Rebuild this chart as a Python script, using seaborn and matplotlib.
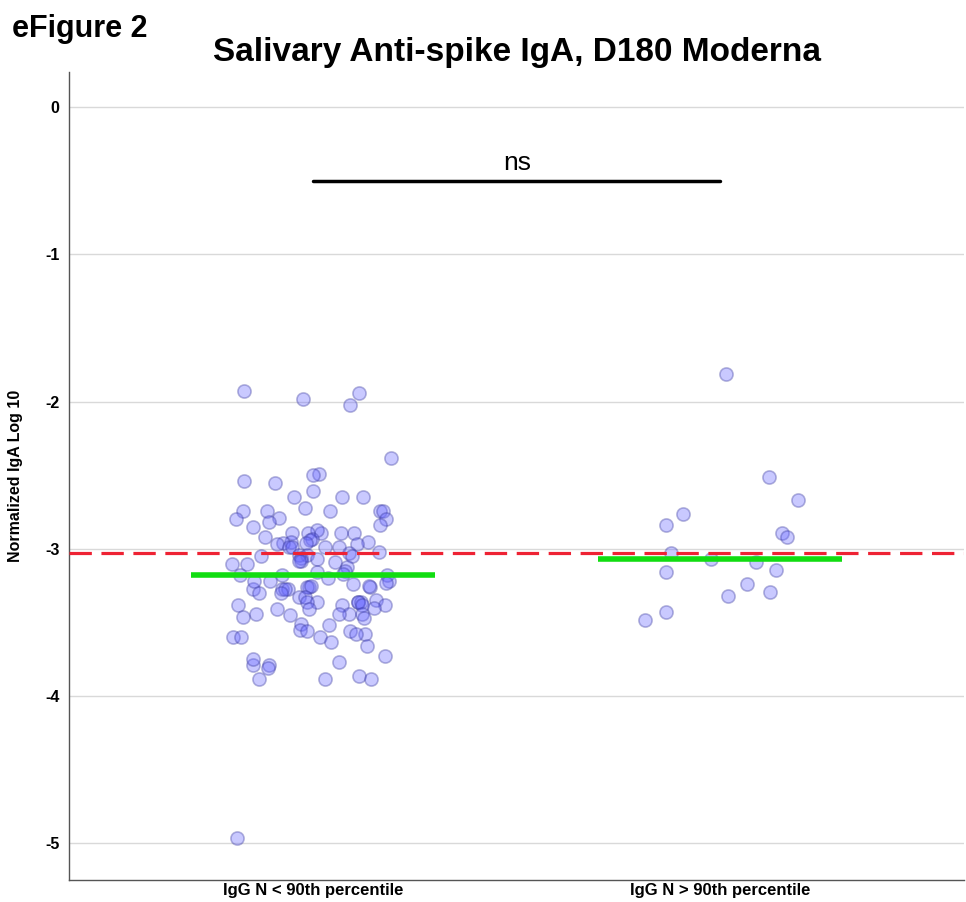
import numpy as np
import pandas as pd
import seaborn as sns
import matplotlib
matplotlib.use("Agg")
import matplotlib.pyplot as plt

# groups
groups = ["IgG N < 90th percentile", "IgG N > 90th percentile"]

# normalized IgA log10
low_vals = [-1.93, -1.94, -1.98, -2.02, -2.38, -2.49, -2.50, -2.54, -2.55, -2.61, -2.65, -2.65, -2.65,
            -2.74, -2.79, -2.74, -2.74, -2.72, -2.74, -2.80, -2.74, -2.80,
            -2.82, -2.89, -2.84, -2.85, -2.87, -2.89, -2.89, -2.89, -2.92, -2.93, -2.89, -2.94,
            -2.95, -2.95, -2.97, -2.96, -2.99, -2.97, -2.96, -2.99, -2.99, -2.99, -3.04, -3.03,
            -3.04, -3.02, -3.05, -3.05, -3.06, -3.08, -3.09, -3.07, -3.08,
            -3.10, -3.10, -3.12,
            -3.16, -3.15, -3.18, -3.17, -3.18, -3.18, -3.20, -3.22,
            -3.22, -3.23, -3.26, -3.26, -3.25, -3.27, -3.27, -3.26, -3.24, -3.25, -3.22, -3.27, -3.27,
            -3.30, -3.30, -3.33, -3.33,
            -3.36, -3.36, -3.36, -3.36, -3.36, -3.35,
            -3.38, -3.38, -3.38, -3.38, -3.40, -3.41, -3.41,
            -3.44, -3.44, -3.44, -3.44, -3.46, -3.45, -3.47,
            -3.51, -3.52, -3.56, -3.58, -3.58, -3.60, -3.55, -3.56, -3.60, -3.60,
            -3.63, -3.66, -3.73, -3.79, -3.79, -3.77, -3.75, -3.81, -3.88, -3.88, -3.86, -3.88,
            -4.96]
high_vals = [-1.81, -2.51, -2.67, -2.76, -2.84, -2.89, -2.92, -3.03, -3.07, -3.09, -3.14,
             -3.16, -3.24, -3.29, -3.32, -3.43, -3.48]

cutoff = -3.03
ns_y = -0.5

df = pd.DataFrame({
    "group": [groups[0]] * len(low_vals) + [groups[1]] * len(high_vals),
    "iga": low_vals + high_vals,
})

sns.set_style("white")
plt.rcParams["font.family"] = ["Liberation Sans", "DejaVu Sans"]
plt.rcParams["text.color"] = "black"
plt.rcParams["xtick.color"] = "black"
plt.rcParams["ytick.color"] = "black"
plt.rcParams["axes.labelcolor"] = "black"

fig = plt.figure(figsize=(9.66, 9.02), dpi=100)
ax = fig.add_axes([0.0714, 0.0244, 0.927, 0.8958])

np.random.seed(7)
sns.stripplot(data=df, x="group", y="iga", order=groups, jitter=0.2, ax=ax,
              color="#6666ff", alpha=0.35, s=9.5, linewidth=1.2,
              edgecolor="#333399", zorder=3)

# median bars
meds = df.groupby("group")["iga"].median()
for i, g in enumerate(groups):
    ax.plot([i - 0.3, i + 0.3], [meds[g], meds[g]], color="#11dd11", lw=4, zorder=4,
            solid_capstyle="butt")

ax.axhline(cutoff, color="#ee2233", lw=2.3, ls=(0, (7, 3)), zorder=5)

# significance bracket
ax.plot([0, 1], [ns_y, ns_y], color="black", lw=2.5)
ax.text(0.5, ns_y + 0.04, "ns", ha="center", va="bottom", fontsize=19)

ax.set_xlim(-0.6, 1.6)
ax.set_ylim(-5.248, 0.238)
ax.set_yticks([0, -1, -2, -3, -4, -5])
ax.set_yticklabels(["0", "-1", "-2", "-3", "-4", "-5"], fontweight="bold", fontsize=11.5)
ax.yaxis.grid(True, color="#d9d9d9", lw=1)
ax.set_axisbelow(True)
ax.tick_params(axis="y", length=0, pad=7)
ax.tick_params(axis="x", length=0, pad=2)
for lab in ax.get_xticklabels():
    lab.set_fontweight("bold")
    lab.set_fontsize(12)
ax.set_xlabel("")
ax.set_ylabel("Normalized IgA Log 10", fontweight="bold", fontsize=11.5, labelpad=16)
sns.despine(ax=ax)
for sp in ["left", "bottom"]:
    ax.spines[sp].set_color("#555555")
    ax.spines[sp].set_linewidth(1)

ax.set_title("Salivary Anti-spike IgA, D180 Moderna", fontweight="bold", fontsize=24, pad=8)
fig.text(0.012, 0.968, "eFigure 2", fontweight="bold", fontsize=22, ha="left", va="center")

fig.savefig("out.png", dpi=100)
